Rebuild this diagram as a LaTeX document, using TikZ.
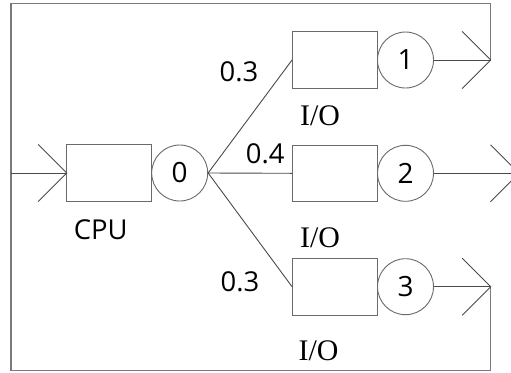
\documentclass[tikz,border=0pt]{standalone}
\usepackage{fontspec}
\setmainfont{Open Sans}
\newfontfamily\iofont{Liberation Serif}
\usetikzlibrary{calc}
\definecolor{linegray}{HTML}{4A4A4A}
\definecolor{boxgray}{HTML}{6A6A6A}
\definecolor{loopgray}{HTML}{7A7A7A}
\begin{document}
\begin{tikzpicture}[x=1bp,y=-1bp,
  line/.style={draw=linegray,line width=0.9bp},
  loopline/.style={draw=loopgray,line width=1.1bp},
  queue/.style={rectangle,draw=boxgray,line width=0.9bp,minimum width=85bp,minimum height=56.5bp,inner sep=0},
  server/.style={circle,draw=boxgray,line width=0.9bp,minimum size=56bp,inner sep=0,font=\fontsize{28}{32}\selectfont},
  prob/.style={font=\fontsize{27.5}{32}\selectfont,anchor=base,inner sep=0},
  iolabel/.style={font=\iofont\fontsize{30}{34}\selectfont,anchor=base,inner sep=0}]
\fill[white] (0,0) rectangle (511,372);
\useasboundingbox (0,0) rectangle (511,372);
% queues and servers
\node[queue] (cpu) at (109.2,173) {};
\node[server] (s0) at (179.7,173) {0};
\node[queue] (io1) at (335,60) {};
\node[server] (s1) at (405.5,60) {1};
\node[queue] (io2) at (335,173.3) {};
\node[server] (s2) at (405.5,173.3) {2};
\node[queue] (io3) at (335,286.7) {};
\node[server] (s3) at (405.5,286.7) {3};
% labels
\node[prob] (lcpu) at (100.8,239.3) {CPU};
\node[prob] (p1) at (239,81.7) {0.3};
\node[prob] (p2) at (265.3,163.3) {0.4};
\node[prob] (p3) at (240,291.7) {0.3};
\node[iolabel] (l1) at (320,125) {I/O};
\node[iolabel] (l2) at (320,247) {I/O};
\node[iolabel] (l3) at (318.5,360) {I/O};
% arrow tips and loop corners
\coordinate (t0) at (66.7,173);
\coordinate (t1) at (490.7,60);
\coordinate (t2) at (519,173.3);
\coordinate (t3) at (490.7,286.7);
\coordinate (in) at (11,173);
\coordinate (tl) at (11,3.5);
\coordinate (bl) at (11,370.5);
% feedback loop
\draw[loopline] (t1) |- (tl) -- (bl) -| (t3);
\draw[line] (in) -- (cpu.west);
% branches
\draw[line] (s0.east) -- (io1.west);
\draw[line] (s0.east) -- (io2.west);
\draw[line] (s0.east) -- (io3.west);
% outputs
\draw[line] (s1.east) -- (t1);
\draw[line] (s2.east) -- (t2);
\draw[line] (s3.east) -- (t3);
% chevrons
\foreach \t in {t0,t1,t2,t3}{
  \draw[line] ($(\t)+(-28.5,-28.5)$) -- (\t) -- ($(\t)+(-28.5,28.5)$);
}
\end{tikzpicture}
\end{document}
